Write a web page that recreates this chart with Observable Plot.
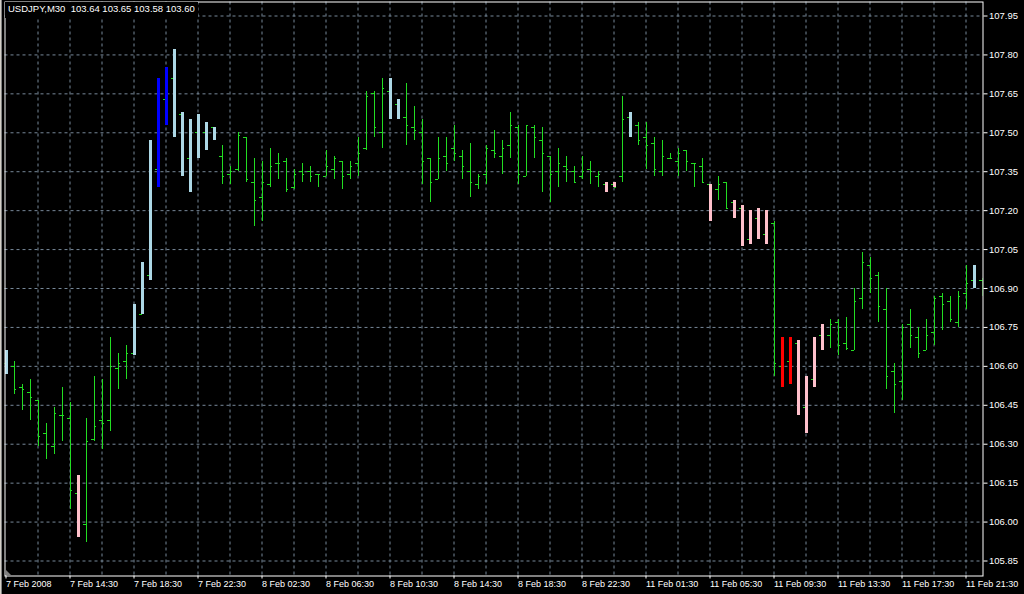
<!DOCTYPE html>
<html><head><meta charset="utf-8">
<script src="https://cdn.jsdelivr.net/npm/d3@7"></script>
<script src="https://cdn.jsdelivr.net/npm/@observablehq/plot@0.6"></script>
<style>
html,body{margin:0;padding:0;background:#000;}
#wrap{position:relative;width:1024px;height:594px;overflow:hidden;}
#title{position:absolute;left:5px;top:2px;padding:1px 3px 4px 3px;background:#000;color:#fff;font:9.5px "Liberation Sans",Arial,sans-serif;white-space:pre;}
#edge{position:absolute;left:0;top:0;width:1px;height:594px;background:#d4d0c8;border-right:1px solid #808080;}
#shift{position:absolute;left:5px;top:569px;width:0;height:0;border-bottom:6px solid #808080;border-right:6px solid transparent;}
</style>
</head><body><div id="wrap"><div id="chart"></div><div id="title">USDJPY,M30  103.64 103.65 103.58 103.60</div><div id="edge"></div><div id="shift"></div></div>
<script>
const opens = [106.61,106.60,106.52,106.50,106.47,106.34,106.29,106.41,106.40,106.11,105.99,106.32,106.39,106.39,106.59,106.62,
106.65,106.80,106.95,107.36,107.63,107.71,107.57,107.40,107.50,107.50,107.52,107.41,107.34,107.36,107.48,107.31,
107.25,107.30,107.38,107.39,107.29,107.35,107.35,107.34,107.33,107.36,107.39,107.34,107.38,107.44,107.65,107.50,
107.66,107.61,107.56,107.52,107.50,107.40,107.32,107.41,107.44,107.41,107.35,107.30,107.34,107.43,107.41,107.45,
107.52,107.33,107.52,107.47,107.41,107.35,107.37,107.35,107.33,107.36,107.33,107.30,107.30,107.33,107.56,107.53,
107.48,107.46,107.35,107.40,107.39,107.43,107.38,107.37,107.30,107.28,107.31,107.23,107.21,107.09,107.17,107.11,
107.15,106.60,106.62,106.69,106.44,106.55,106.72,106.72,106.77,106.69,106.66,106.86,106.99,106.95,106.82,106.58,
106.54,106.76,106.71,106.66,106.73,106.87,106.85,106.77,106.88,106.93,106.93];
const highs = [106.66,106.62,106.53,106.55,106.47,106.38,106.44,106.52,106.46,106.18,106.40,106.56,106.55,106.71,106.65,106.68,
106.84,107.00,107.47,107.71,107.75,107.82,107.58,107.55,107.57,107.54,107.52,107.45,107.37,107.50,107.48,107.40,
107.39,107.44,107.42,107.40,107.36,107.38,107.37,107.34,107.43,107.41,107.39,107.39,107.48,107.66,107.66,107.71,
107.71,107.63,107.69,107.60,107.55,107.40,107.48,107.48,107.53,107.43,107.46,107.34,107.45,107.51,107.47,107.58,
107.53,107.53,107.53,107.52,107.41,107.44,107.41,107.37,107.41,107.39,107.35,107.31,107.31,107.64,107.58,107.54,
107.54,107.48,107.47,107.42,107.44,107.43,107.38,107.40,107.30,107.33,107.31,107.24,107.22,107.20,107.21,107.20,
107.16,106.71,106.71,106.70,106.56,106.71,106.76,106.78,106.78,106.79,106.90,107.04,107.02,106.96,106.90,106.61,
106.76,106.82,106.75,106.78,106.87,106.88,106.87,106.89,106.99,106.99,106.94];
const lows = [106.57,106.49,106.43,106.39,106.29,106.24,106.26,106.31,106.05,105.94,105.92,106.31,106.28,106.35,106.51,106.55,
106.64,106.80,106.93,107.29,107.53,107.48,107.33,107.27,107.40,107.43,107.47,107.30,107.30,107.35,107.31,107.14,
107.16,107.29,107.32,107.27,107.28,107.31,107.31,107.29,107.33,107.32,107.28,107.32,107.33,107.43,107.48,107.44,
107.55,107.55,107.45,107.47,107.30,107.23,107.32,107.35,107.39,107.32,107.25,107.28,107.30,107.40,107.34,107.40,
107.30,107.33,107.40,107.27,107.23,107.29,107.31,107.31,107.32,107.30,107.29,107.27,107.29,107.31,107.48,107.45,
107.36,107.33,107.33,107.40,107.33,107.35,107.29,107.31,107.16,107.24,107.21,107.17,107.06,107.07,107.09,107.07,
106.56,106.52,106.53,106.41,106.34,106.52,106.66,106.67,106.64,106.66,106.66,106.82,106.88,106.77,106.51,106.42,
106.47,106.67,106.63,106.66,106.68,106.74,106.77,106.75,106.82,106.90,106.87];
const closes = [106.60,106.51,106.51,106.48,106.33,106.30,106.42,106.41,106.12,106.00,106.31,106.37,106.38,106.60,106.61,106.65,
106.80,106.95,107.37,107.64,107.72,107.56,107.41,107.49,107.51,107.51,107.48,107.33,107.35,107.49,107.32,107.24,
107.31,107.37,107.38,107.28,107.34,107.34,107.33,107.34,107.37,107.40,107.33,107.37,107.42,107.64,107.52,107.67,
107.60,107.57,107.53,107.51,107.39,107.31,107.40,107.38,107.42,107.37,107.31,107.33,107.44,107.42,107.44,107.53,
107.34,107.53,107.48,107.42,107.34,107.38,107.36,107.31,107.35,107.35,107.34,107.28,107.29,107.55,107.51,107.47,
107.45,107.36,107.41,107.40,107.42,107.39,107.38,107.31,107.27,107.30,107.21,107.22,107.08,107.19,107.10,107.14,
106.61,106.63,106.70,106.43,106.56,106.71,106.71,106.76,106.68,106.67,106.85,107.00,106.94,106.83,106.56,106.53,
106.75,106.72,106.65,106.72,106.86,106.84,106.78,106.87,106.92,106.94,106.93];
// highlight per bar: "" none, "lb" light blue, "b" blue, "p" pink, "r" red
const highlight = ["lb","","","","","","","","","p","","","","","","",
"lb","lb","lb","b","b","lb","lb","lb","lb","lb","lb","","","","","",
"","","","","","","","","","","","","","","","",
"lb","lb","","","","","","","","","","","","","","",
"","","","","","","","","","","","p","p","","lb","",
"","","","","","","","","p","","","p","p","p","p","p",
"","r","r","p","p","p","p","","","","","","","","","",
"","","","","","","","","","lb",""];
const timeLabels = ["7 Feb 2008","7 Feb 14:30","7 Feb 18:30","7 Feb 22:30","8 Feb 02:30","8 Feb 06:30","8 Feb 10:30","8 Feb 14:30",
"8 Feb 18:30","8 Feb 22:30","11 Feb 01:30","11 Feb 05:30","11 Feb 09:30","11 Feb 13:30","11 Feb 17:30","11 Feb 21:30"];
const priceTicks = [105.85,106.00,106.15,106.30,106.45,106.60,106.75,106.90,107.05,107.20,107.35,107.50,107.65,107.80,107.95];
const highlightColors = {lb:"#add8e6", b:"#0000ff", p:"#ffc0cb", r:"#ff0000"};

const bars = opens.map((o,i)=>({i, o, h:highs[i], l:lows[i], c:closes[i], k:highlight[i]}));
const colored = bars.filter(d=>d.k);
const gridIdx = d3.range(4, 121, 4);
const labelIdx = d3.range(0, 121, 8);
const green = "#22dd22";
const gridColor = "#778899";

const chart = Plot.plot({
  width: 1024, height: 594,
  marginLeft: 4.5, marginRight: 41.5, marginTop: 1.5, marginBottom: 18.5,
  style: {background:"#000", color:"#fff", fontFamily:"'Liberation Sans', Arial, sans-serif", fontSize:"9px"},
  x: {domain:[0,122], range:[5.5,981.5], axis:null, label:null},
  y: {domain:[105.85,107.95], range:[560.5,15.5], axis:null, label:null},
  color: {type:"identity"},
  marks: [
    Plot.ruleY(priceTicks, {stroke:gridColor, strokeDasharray:"3,3"}),
    Plot.ruleX(gridIdx, {stroke:gridColor, strokeDasharray:"3,3"}),
    Plot.ruleX(bars, {x:"i", y1:"l", y2:"h", stroke:green, shapeRendering:"crispEdges", clip:true}),
    Plot.ruleY(bars, {y:"o", x1:d=>d.i-0.3125, x2:d=>d.i, stroke:green, shapeRendering:"crispEdges", clip:true}),
    Plot.ruleY(bars, {y:"c", x1:d=>d.i, x2:d=>d.i+0.3125, stroke:green, shapeRendering:"crispEdges", clip:true}),
    Plot.ruleX(colored, {x:"i", y1:"l", y2:"h", stroke:d=>highlightColors[d.k], strokeWidth:3, shapeRendering:"crispEdges", clip:true}),
    Plot.frame({stroke:"#fff"}),
    Plot.axisY(priceTicks, {anchor:"right", tickSize:4, tickPadding:2, stroke:"#fff", fill:"#fff", tickFormat:d=>d.toFixed(2), fontSize:9.5, label:null}),
    Plot.axisX(labelIdx, {anchor:"bottom", tickSize:3, tickPadding:2, stroke:"#fff", fill:"#fff", textAnchor:"start", tickFormat:i=>timeLabels[i/8], fontSize:9, label:null})
  ]
});
document.getElementById("chart").appendChild(chart);
</script>
</body></html>
